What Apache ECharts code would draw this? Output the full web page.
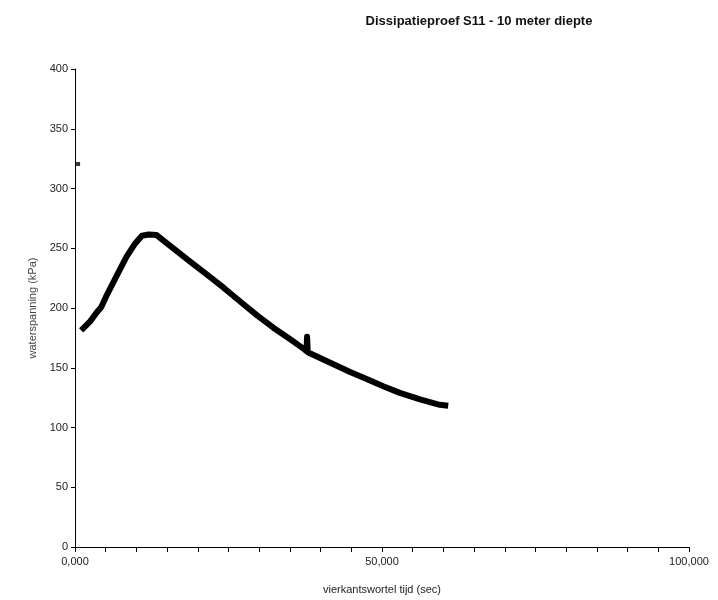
<!DOCTYPE html>
<html>
<head>
<meta charset="utf-8">
<script src="https://cdn.jsdelivr.net/npm/echarts@6/dist/echarts.min.js"></script>
<style>
  html, body { margin: 0; padding: 0; background: #fff; }
  #main { width: 718px; height: 600px; }
</style>
</head>
<body>
<div id="main"></div>
<script>
// vierkantswortel tijd (x) en waterspanning in kPa (y)
const tijd = [1.35, 2.5, 3.5, 4.3, 5.2, 6.8, 8.4, 9.8, 10.9, 12.0, 13.3, 15.5, 18.7, 21.5, 24.2, 27.0, 29.6, 32.3, 35.0, 37.2, 37.7, 37.8, 37.9, 40.0, 42.1, 44.8, 47.5, 50.2, 52.9, 56.2, 59.4, 60.3];
const spanning = [183, 189, 196, 201, 211, 227, 243, 254, 260.5, 261.5, 261, 252, 239, 228, 217, 205, 194, 183.5, 174, 166, 164, 176, 163, 158, 153, 146.5, 140.5, 134.5, 129, 123.5, 119, 118.5];
// losse beginwaarde
const losTijd = [0.5];
const losSpanning = [320.5];

const chart = echarts.init(document.getElementById('main'));

const curve = tijd.map((t, i) => [t, spanning[i]]);
const los = losTijd.map((t, i) => [t, losSpanning[i]]);

const labelFont = 'Liberation Sans';

const option = {
  backgroundColor: '#fff',
  animation: false,
  title: {
    text: 'Dissipatieproef S11 - 10 meter diepte',
    left: 474,
    top: 10,
    textAlign: 'center',
    textStyle: { fontFamily: labelFont, fontSize: 13, fontWeight: 'bold', color: '#111' }
  },
  grid: { left: 75, right: 29, top: 69, bottom: 52 },
  xAxis: {
    type: 'value',
    min: 0,
    max: 100,
    interval: 50,
    name: 'vierkantswortel tijd (sec)',
    nameLocation: 'middle',
    nameGap: 37,
    nameTextStyle: { fontFamily: labelFont, fontSize: 11, color: '#222' },
    axisLine: { lineStyle: { color: '#000', width: 1 } },
    axisTick: { show: true, length: 5, lineStyle: { color: '#000' } },
    minorTick: { show: true, splitNumber: 10, length: 5, lineStyle: { color: '#000' } },
    splitLine: { show: false },
    axisLabel: {
      fontFamily: labelFont, fontSize: 11, color: '#222', margin: 9,
      formatter: v => v.toFixed(3).replace('.', ',')
    }
  },
  yAxis: {
    type: 'value',
    min: 0,
    max: 400,
    interval: 50,
    name: 'waterspanning (kPa)',
    nameLocation: 'middle',
    nameGap: 36,
    nameTextStyle: { fontFamily: labelFont, fontSize: 11, color: '#444' },
    axisLine: { show: true, lineStyle: { color: '#000', width: 1 } },
    axisTick: { show: true, length: 4, lineStyle: { color: '#000' } },
    splitLine: { show: false },
    axisLabel: { fontFamily: labelFont, fontSize: 11, color: '#222', margin: 7 }
  },
  series: [
    {
      type: 'line',
      data: curve,
      showSymbol: false,
      lineStyle: { color: '#000', width: 6, join: 'round', cap: 'square' }
    },
    {
      type: 'scatter',
      data: los,
      symbol: 'rect',
      symbolSize: 4,
      itemStyle: { color: '#000' }
    }
  ]
};

chart.setOption(option);
</script>
</body>
</html>
